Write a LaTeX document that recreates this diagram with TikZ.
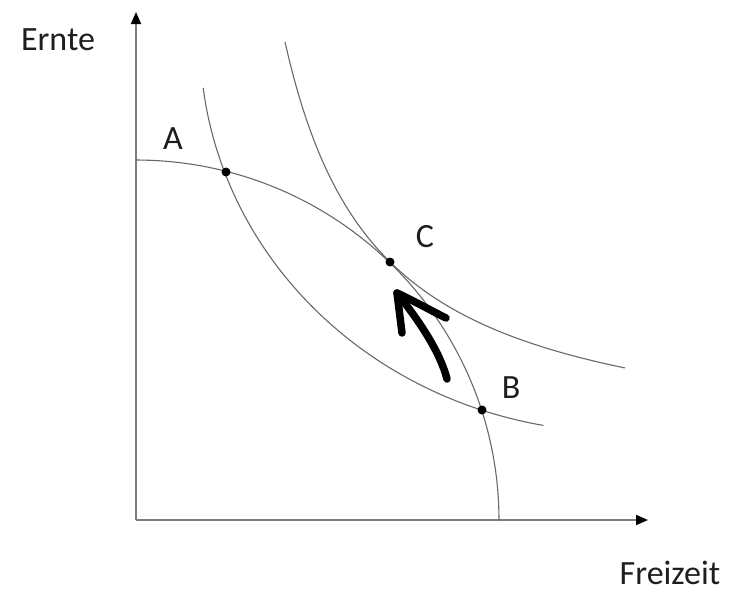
\documentclass[tikz,border=0pt]{standalone}
\usepackage{fontspec}
\setmainfont{Carlito}
\usetikzlibrary{arrows.meta}
\begin{document}
\begin{tikzpicture}[x=1pt,y=-1pt,
  axisline/.style={line width=1.8pt,draw={rgb,255:red,125;green,125;blue,125},-{Triangle[length=12pt,width=10pt,color=black]}},
  curveline/.style={line width=1.1pt,draw={rgb,255:red,105;green,105;blue,105}},
  dot/.style={circle,fill=black,inner sep=0pt,minimum size=9pt},
  lbl/.style={font=\fontsize{34}{40}\selectfont,text={rgb,255:red,30;green,30;blue,30},anchor=base,inner sep=0pt},
  handarrow/.style={line width=7.5pt,line cap=round,line join=round,draw=black}]
\useasboundingbox (0,0) rectangle (733,592);
% axes
\coordinate (O) at (136,520);
\coordinate (ytop) at (136,12);
\coordinate (xend) at (648,520);
\draw[axisline] (O) -- (ytop);
\draw[axisline] (O) -- (xend);
% production possibility curve
\draw[curveline] plot[domain=0:90,samples=80] ({136+363*cos(\x)},{520-360*sin(\x)});
% indifference curves
\draw[curveline] plot[domain=173:100.5,samples=90] ({620+420*cos(\x)},{40+392*sin(\x)});
\draw[curveline] plot[domain=285:625,samples=80] (\x,{457.4-387.57/((\x-191.7)/100)});
% points
\node[dot] (A) at (226,172) {};
\node[dot] (C) at (390,262) {};
\node[dot] (B) at (482,410) {};
% labels
\node[lbl] (lA) at (173,149) {A};
\node[lbl] (lC) at (425,247) {C};
\node[lbl] (lB) at (511,398) {B};
\node[lbl] (lE) at (58,50) {Ernte};
\node[lbl] (lF) at (670,584) {Freizeit};
% hand-drawn arrow
\coordinate (tip) at (397,293);
\coordinate (tail) at (447,379);
\coordinate (armL) at (402,333);
\coordinate (armR) at (446,318);
\draw[handarrow] (tail) .. controls (440,352) and (420,322) .. (tip);
\draw[handarrow] (armL) -- (tip) .. controls (412,300) and (430,310) .. (armR);
\end{tikzpicture}
\end{document}
